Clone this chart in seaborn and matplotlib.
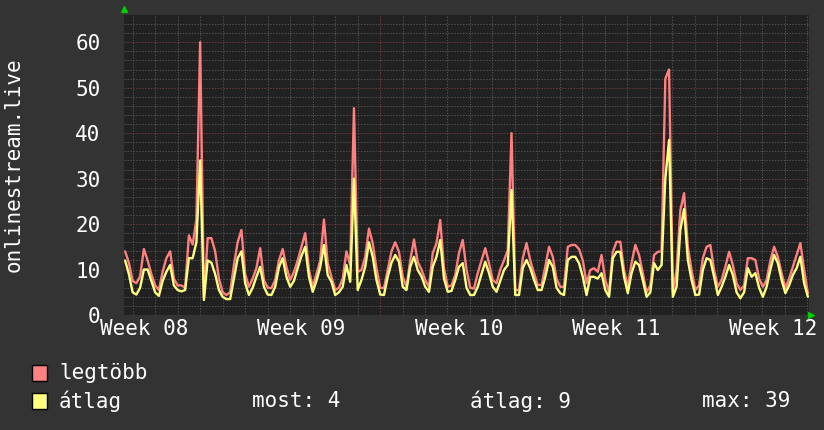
import numpy as np
import pandas as pd
import matplotlib
matplotlib.use("Agg")
import matplotlib.pyplot as plt
from matplotlib.patches import Rectangle
import seaborn as sns

# values, roughly one sample every 4 hours
max_vals = [14, 11.5, 7.5, 7, 8.5, 14.5, 12, 9, 6.5, 5.5,
            9.5, 12.5, 14, 8, 6.5, 6.5, 6, 17.5, 15.5, 21,
            60, 3.7, 16.9, 16.9, 14, 8, 5, 4.4, 5, 11,
            16, 18.7, 9, 6.2, 8, 10.3, 14.7, 7.7, 6, 5.9,
            7.7, 12, 14.5, 10.6, 7.7, 9.5, 12, 15, 18, 10,
            6.2, 9, 12, 21, 11.4, 8.4, 5.5, 6, 8, 14,
            11, 45.5, 9.5, 9.9, 12.8, 19, 15.8, 10.3, 6, 5.9,
            9.9, 14, 16, 13.9, 8.4, 6.2, 12, 16.6, 11.7, 10,
            7.7, 6.2, 13.6, 15.8, 20.9, 10.3, 6.2, 6.5, 8.8, 13.6,
            16.5, 10, 6, 5.8, 9.2, 12, 14.7, 11.4, 7.7, 7,
            10, 12, 14.3, 40, 5.5, 5.5, 12.5, 15.8, 12, 9.2,
            6.6, 6.6, 10.6, 15, 12.8, 8, 6.2, 6.2, 15, 15.4,
            15.4, 14.5, 12, 7, 9.9, 10.3, 9.5, 13.2, 7.7, 5.1,
            13.9, 16.1, 16.1, 9.9, 6.2, 11.4, 15.4, 13.2, 9.2, 5,
            6.5, 13.2, 13.9, 14, 52, 54, 5, 9.9, 23, 26.8,
            15, 9.9, 5.5, 6.5, 12.5, 15, 15.4, 9.9, 6.2, 7.7,
            10.6, 13.9, 11, 7, 5.5, 6.5, 12.5, 12.5, 12.1, 8,
            6.2, 7.7, 12, 15, 12.8, 9.2, 5.9, 8, 10.6, 13.2,
            15.8, 9.9, 4.8]

avg_vals = [12, 9, 5, 4.5, 6, 10, 10, 7.5, 5, 4.2,
            7.5, 9.5, 11, 6.5, 5.5, 5.2, 5.5, 12.5, 12.5, 16,
            34, 3.3, 12, 11.5, 9, 5.5, 4, 3.5, 3.5, 8,
            12.5, 14, 7, 4.4, 6, 8.4, 10.6, 6.2, 4.5, 4.4,
            6.2, 10.5, 12.5, 8.4, 6.2, 7.5, 10.3, 13, 15, 8.4,
            5.1, 7.5, 10.5, 15.4, 8.8, 7.3, 4.4, 5, 6.2, 11,
            7.3, 30, 5.5, 7.7, 10.6, 16, 12.8, 7.7, 4.5, 4.4,
            8.4, 11.5, 13.2, 11.7, 6.2, 5.5, 10.6, 12.8, 9.9, 8.5,
            6.2, 5.1, 10.6, 12.8, 16.5, 8, 5.1, 5.3, 7.7, 10.6,
            11.4, 6, 4.4, 4.4, 6.2, 9, 11.7, 9.2, 6.2, 5.1,
            7.5, 9.9, 11, 27.5, 4.4, 4.4, 10.3, 12.1, 10.3, 7.7,
            5.5, 5.5, 8.4, 12.1, 10.6, 6, 4.8, 4.4, 12.1, 12.8,
            12.8, 11.4, 8.4, 4.4, 8.4, 8.4, 8, 9.2, 5.5, 4,
            12.5, 13.9, 13.9, 8.4, 4.8, 9.2, 11.7, 11, 7.7, 4,
            5, 11.4, 9.9, 11, 30, 38.5, 4, 6.2, 18.7, 23.3,
            12.1, 7.7, 4.4, 4.5, 9.9, 12.5, 12.1, 8.4, 4.4, 6.2,
            8.4, 11, 8.8, 5, 3.7, 5, 10.3, 8.4, 9.2, 6,
            4, 6.2, 10, 13.2, 11.4, 7.7, 4.8, 6.5, 8.8, 10.3,
            12.8, 7, 4]

week_labels = ["Week 08", "Week 09", "Week 10", "Week 11", "Week 12"]
series_names = ["legtöbb", "átlag"]
stat_now = 4
stat_avg = 9
stat_max = 39

# colours
bg_outer = "#333333"
bg_plot = "#212121"
red = "#ff8080"
yellow = "#ffff80"
grid_minor = "#525252"
grid_major = "#6e3a3a"

sns.set_style("dark")
plt.rcParams["font.family"] = ["DejaVu Sans Mono"]
plt.rcParams["font.size"] = 15

# time axis in days (one day = 22.47 px of the plot width)
x_end = 685 / 22.47
n = len(max_vals)
t = np.linspace(0.05, x_end - 0.05, n)
df = pd.DataFrame({
    "t": np.concatenate([t, t]),
    "value": np.concatenate([max_vals, avg_vals]),
    "series": [series_names[0]] * n + [series_names[1]] * n,
})

fig = plt.figure(figsize=(8.24, 4.30), dpi=100, facecolor=bg_outer)
ax = fig.add_axes([124 / 824, 115 / 430, 685 / 824, 300 / 430])
ax.set_facecolor(bg_plot)
ax.set_xlim(0, x_end)
ax.set_ylim(0, 66)

# grid
dots = (0, (1.5, 1.5))
for y in np.arange(2, 66, 2):
    c = grid_major if y % 10 == 0 else grid_minor
    ax.axhline(y, color=c, lw=0.7, ls=dots, zorder=1)
day_lines = np.arange(0.395, x_end, 1.0)
for k, x in enumerate(day_lines):
    c = grid_major if k % 7 == 4 else grid_minor
    ax.axvline(x, color=c, lw=0.7, ls=dots, zorder=1)

sns.lineplot(data=df, x="t", y="value", hue="series",
             palette={series_names[0]: red, series_names[1]: yellow},
             estimator=None, lw=1.7, legend=False, ax=ax, zorder=3)

for s in ax.spines.values():
    s.set_visible(False)

ax.set_xticks(0.895 + 7 * np.arange(len(week_labels)), week_labels)
ax.set_yticks(np.arange(0, 61, 10))
ax.set_xticks(day_lines, minor=True)
ax.set_yticks(np.arange(0, 66, 2), minor=True)
ax.tick_params(axis="x", which="major", length=0, pad=3, colors="white")
ax.tick_params(axis="y", which="major", length=3, pad=14, colors="white")
ax.tick_params(which="minor", length=3, color=grid_minor)
ax.tick_params(axis="y", which="major", color=grid_minor)
ax.set_xlabel("")
ax.set_ylabel("")

# green arrows at axis ends
ax.plot([0], [1 + 6 / 300], marker="^", ms=5, color="#00cc00",
        transform=ax.transAxes, clip_on=False, zorder=5)
ax.plot([1 + 2 / 685], [0], marker=">", ms=5, color="#00cc00",
        transform=ax.transAxes, clip_on=False, zorder=5)

fig.text(14 / 824, 1 - 165 / 430, "onlinestream.live", rotation=90,
         ha="center", va="center", color="white", fontsize=15)

# legend
fig.patches.append(Rectangle((32 / 824, 49 / 430), 15 / 824, 16 / 430,
                             transform=fig.transFigure, facecolor=red,
                             edgecolor="black", lw=1))
fig.patches.append(Rectangle((32 / 824, 21 / 430), 15 / 824, 16 / 430,
                             transform=fig.transFigure, facecolor=yellow,
                             edgecolor="black", lw=1))
fig.text(59 / 824, 57 / 430, series_names[0], color="white", va="center")
fig.text(59 / 824, 29 / 430, series_names[1], color="white", va="center")
fig.text(252 / 824, 29 / 430, f"most: {stat_now}", color="white", va="center")
fig.text(470 / 824, 29 / 430, f"átlag: {stat_avg}", color="white", va="center")
fig.text(702 / 824, 29 / 430, f"max: {stat_max}", color="white", va="center")

fig.savefig("out.png", dpi=100, facecolor=bg_outer)
